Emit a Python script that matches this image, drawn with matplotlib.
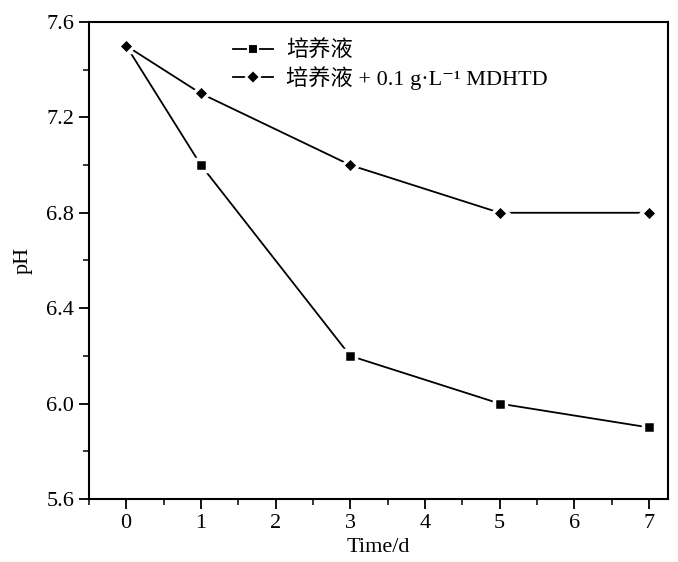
import matplotlib.pyplot as plt
from matplotlib.ticker import MultipleLocator

plt.rcParams['font.family'] = ['Liberation Serif', 'Noto Sans CJK SC', 'DejaVu Serif']

days = [0, 1, 3, 5, 7]
ph_medium = [7.5, 7.0, 6.2, 6.0, 5.9]
ph_mdhtd = [7.5, 7.3, 7.0, 6.8, 6.8]

label_medium = "培养液"
label_mdhtd = "培养液 + 0.1 g·L⁻¹ MDHTD"

fig = plt.figure(figsize=(6.78, 5.62), dpi=100)
ax = fig.add_axes([0.131, 0.112, 0.854, 0.849])

# markers get a white rim so the line stops short of them
ax.plot(days, ph_medium, color="black", lw=1.3, marker="s", ms=9,
        mfc="black", mec="white", mew=2.5, label=label_medium)
ax.plot(days, ph_mdhtd, color="black", lw=1.3, marker="D", ms=8,
        mfc="black", mec="white", mew=2.5, label=label_mdhtd)

ax.set_xlim(-0.5, 7.25)
ax.set_ylim(5.6, 7.6)
ax.xaxis.set_major_locator(MultipleLocator(1))
ax.xaxis.set_minor_locator(MultipleLocator(0.5))
ax.yaxis.set_minor_locator(MultipleLocator(0.2))
ax.set_yticks([5.6, 6.0, 6.4, 6.8, 7.2, 7.6])
ax.set_yticklabels(["5.6", "6.0", "6.4", "6.8", "7.2", "7.6"])

ax.tick_params(which="major", direction="out", length=7, width=1.3, labelsize=16)
ax.tick_params(which="minor", direction="out", length=4, width=1.1)
for s in ax.spines.values():
    s.set_linewidth(1.5)

ax.set_xlabel("Time/d", fontsize=16, labelpad=4)
ax.set_ylabel("pH", fontsize=16, labelpad=10)

leg = ax.legend(loc="upper left", bbox_to_anchor=(0.233, 0.98), frameon=False,
                fontsize=16, handlelength=1.8, handletextpad=0.6,
                labelspacing=0.2, borderaxespad=0)
for h in leg.legend_handles:
    h.set_markeredgewidth(1.5)
    h.set_markersize(7)

fig.savefig("out.png", dpi=100)
